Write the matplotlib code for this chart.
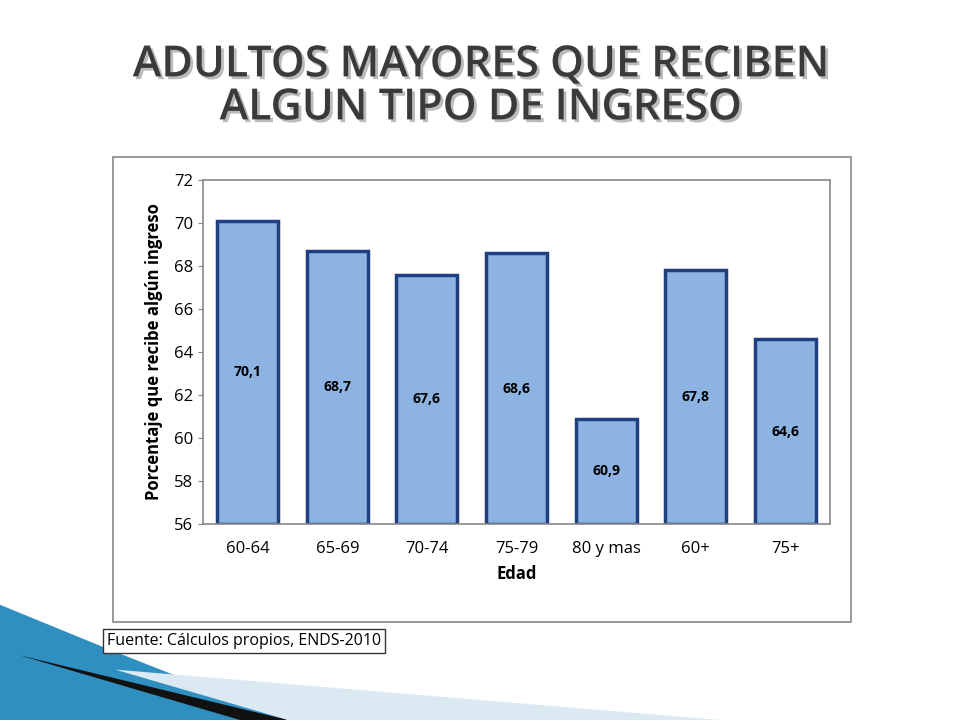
import matplotlib
matplotlib.use("Agg")
import matplotlib.pyplot as plt
from matplotlib.patches import Rectangle, Polygon
import matplotlib.patheffects as pe

categories = ["60-64", "65-69", "70-74", "75-79", "80 y mas", "60+", "75+"]
values = [70.1, 68.7, 67.6, 68.6, 60.9, 67.8, 64.6]
labels = ["70,1", "68,7", "67,6", "68,6", "60,9", "67,8", "64,6"]
yticks = [56, 58, 60, 62, 64, 66, 68, 70, 72]

plt.rcParams["font.family"] = "Open Sans"
fig = plt.figure(figsize=(9.6, 7.2), dpi=100)

# decorative wedge bottom-left
fig.patches.append(Polygon([[0, 0], [0, 0.16], [0.11, 0.1], [0.3, 0.0]], closed=True,
                           transform=fig.transFigure, facecolor="#2f8fc0", zorder=0))
fig.patches.append(Polygon([[0.02, 0.09], [0.3, 0.0], [0.25, 0.0]], closed=True,
                           transform=fig.transFigure, facecolor="#111111", zorder=0))
fig.patches.append(Polygon([[0.3, 0.0], [0.12, 0.07], [0.75, 0.0]], closed=True,
                           transform=fig.transFigure, facecolor="#dbe9f2", zorder=0))

# chart frame
fig.patches.append(Rectangle((113/960, 1-622/720), (851-113)/960, (622-157)/720,
                             transform=fig.transFigure, facecolor="white",
                             edgecolor="#888888", lw=1.2, zorder=1))

fig.text(0.5, 0.88, "ADULTOS MAYORES QUE RECIBEN\nALGUN TIPO DE INGRESO", ha="center",
         va="center", fontsize=31, fontweight="semibold", color="#3a3a3a", linespacing=1.0,
         path_effects=[pe.withSimplePatchShadow(offset=(2, -2), shadow_rgbFace="#bbbbbb", alpha=1)])

ax = fig.add_axes([203/960, 1-524/720, (830-203)/960, (524-180)/720], zorder=2)
x = range(len(categories))
ax.bar(x, [v - 56 for v in values], bottom=56, width=0.68, color="#8db3e2",
       edgecolor="#1f3f7f", linewidth=2.5)
for i, (v, l) in enumerate(zip(values, labels)):
    ax.text(i, (56 + v) / 2, l, ha="center", va="center", fontsize=10, fontweight="bold")
ax.set_ylim(56, 72)
ax.set_xlim(-0.5, len(categories) - 0.5)
ax.set_yticks(yticks)
ax.set_xticks(list(x))
ax.set_xticklabels(categories, fontsize=12)
ax.tick_params(axis="y", labelsize=12, direction="out", color="#888888")
ax.tick_params(axis="x", length=0, pad=12)
for s in ax.spines.values():
    s.set_color("#888888")
    s.set_linewidth(1.2)
ax.set_xlabel("Edad", fontsize=12, fontweight="bold", labelpad=6)
ax.set_ylabel("Porcentaje que recibe algún ingreso", fontsize=12, fontweight="bold", labelpad=8)

fig.text(107/960, 1-641/720, "Fuente: Cálculos propios, ENDS-2010", fontsize=11.5, va="center",
         bbox=dict(facecolor="white", edgecolor="#333333", lw=1, pad=3), zorder=3)

fig.savefig("out.png", dpi=100)
